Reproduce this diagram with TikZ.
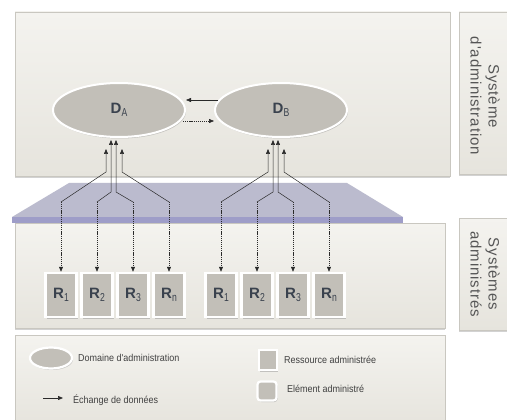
\documentclass[tikz,border=0pt]{standalone}
\usepackage{fontspec}
\setmainfont{Liberation Sans}
\newfontfamily\labfont[LetterSpace=6]{Liberation Sans}
\newfontfamily\narrowfont[FakeStretch=0.9]{Liberation Sans}
\newfontfamily\subfont[FakeStretch=0.75]{Liberation Sans}
\usetikzlibrary{arrows.meta,shadows,shapes.geometric,calc}
\definecolor{panelA}{HTML}{F4F3EF}
\definecolor{panelB}{HTML}{E6E4DD}
\definecolor{panelEdge}{HTML}{C9C7C0}
\definecolor{boxfill}{HTML}{C2BFB8}
\definecolor{txt}{HTML}{3A424E}
\definecolor{band}{HTML}{BBBBCE}
\definecolor{bandedge}{HTML}{9E9DC8}
\definecolor{labtxt}{HTML}{555555}
\definecolor{lin}{HTML}{2A2A2A}
\tikzset{
  panel/.style={draw=panelEdge, line width=0.6pt, top color=panelA, bottom color=panelB,
    drop shadow={shadow xshift=0pt, shadow yshift=-2pt, opacity=0.35}},
  dom/.style={ellipse, draw=white, line width=2pt, fill=boxfill, inner sep=0pt,
    minimum width=132pt, minimum height=54pt, text=txt,
    drop shadow={shadow xshift=1pt, shadow yshift=-1.5pt, opacity=0.35}},
  res/.style={rectangle, draw=white, line width=2.5pt, fill=boxfill, inner sep=0pt,
    minimum width=31pt, minimum height=44pt, text=txt,
    drop shadow={shadow xshift=1pt, shadow yshift=-1.5pt, opacity=0.4}},
  vlab/.style={rotate=-90, align=center, text=labtxt, font=\labfont\fontsize{15}{18}\selectfont},
  legtxt/.style={anchor=west, text=labtxt!75!black, font=\narrowfont\fontsize{10}{12}\selectfont, inner sep=0pt},
  tip/.style={-{Triangle[length=5pt,width=4pt]}},
  conn/.style={lin, line width=0.5pt, tip},
  dconn/.style={lin, line width=0.5pt, tip, dash pattern=on 1.2pt off 0.9pt},
}
\newcommand{\Dlab}[1]{\fontsize{15}{15}\selectfont\bfseries D\raisebox{-3.5pt}{\subfont\mdseries\fontsize{11.5}{11}\selectfont #1}}
\newcommand{\Rlab}[1]{\fontsize{15}{15}\selectfont\bfseries R\raisebox{-3.5pt}{\subfont\mdseries\fontsize{11.5}{11}\selectfont #1}}
\begin{document}
\begin{tikzpicture}[x=1pt,y=-1pt]
\path[fill=white,use as bounding box] (0,0) rectangle (507,420);
% panels
\path[panel] (15,12) rectangle (450,176);
\path[panel] (459,12) rectangle (512,174);
\fill[band] (12,217) -- (69,183) -- (347,183) -- (403,217) -- cycle;
\fill[bandedge] (12,217) rectangle (403,223);
\path[panel] (15,223) rectangle (445,328);
\path[panel] (459,218) rectangle (512,330);
\path[panel] (15,335) rectangle (445,426);
% labels
\node[vlab] (lab1) at (485,96) {Système\\d'administration};
\node[vlab] (lab2) at (485,274) {Systèmes\\administrés};
% domains
\node[dom] (DA) at (119,110) {\Dlab{A}};
\node[dom] (DB) at (281,110) {\Dlab{B}};
\draw[conn] ($(DB.west)+(4,-10)$) -- ($(DA.east)+(0,-10)$);
\draw[dconn] ($(DA.east)+(-3,11)$) -- ($(DB.west)+(0,11)$);
% resources
\foreach \n/\x/\s in {A1/61/1,A2/97/2,A3/133/3,An/169/n,B1/221/1,B2/257/2,B3/293/3,Bn/329/n}{
  \node[res] (R\n) at (\x,295) {\Rlab{\s}};
  \coordinate (b\n) at (\x,202);
  \draw[dconn] (b\n) -- (R\n.north);
}
\foreach \g in {A,B}{
  \coordinate (t\g1) at ($(D\g.south)+(-13,11)$);
  \coordinate (t\g2) at ($(D\g.south)+(-8,2)$);
  \coordinate (t\g3) at ($(D\g.south)+(-3,2)$);
  \coordinate (t\g4) at ($(D\g.south)+(3,11)$);
  \draw[conn] (b\g1) -- (t\g1 |- 0,172) -- (t\g1);
  \draw[conn] (b\g2) -- (t\g2 |- 0,192) -- (t\g2);
  \draw[conn] (b\g3) -- (t\g3 |- 0,192) -- (t\g3);
  \draw[conn] (b\g n) -- (t\g4 |- 0,172) -- (t\g4);
}
% legend
\node[dom, minimum width=42pt, minimum height=21pt, line width=2.2pt] (Ldom) at (51,358) {};
\node[legtxt] (Ldomt) at (78,358) {Domaine d'administration};
\coordinate (La1) at (43,398);
\coordinate (La2) at (63,398);
\draw[lin, line width=0.7pt, tip] (La1) -- (La2);
\node[legtxt] (Lat) at (73,400) {Échange de données};
\node[res, minimum width=18pt, minimum height=20pt, line width=2.2pt] (Lres) at (268,360) {};
\node[legtxt] (Lrest) at (284,360) {Ressource administrée};
\node[res, minimum width=19pt, minimum height=19pt, line width=2.2pt, rounded corners=3pt] (Lel) at (267,391) {};
\node[legtxt] (Lelt) at (287,389) {Elément administré};
\end{tikzpicture}
\end{document}
